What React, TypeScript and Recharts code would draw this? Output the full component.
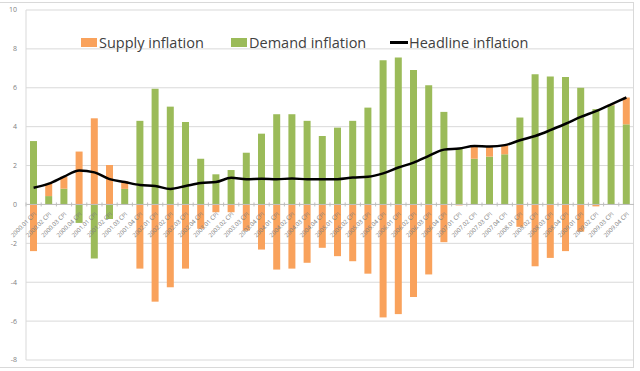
import { ComposedChart, Bar, Line, XAxis, YAxis, CartesianGrid, ReferenceLine } from 'recharts';

const years = [2000, 2001, 2002, 2003, 2004, 2005, 2006, 2007, 2008, 2009];
const quarters = ['01', '02', '03', '04'];
const labels = years.flatMap((y) => quarters.map((q) => `${y}.${q} CPI`));

const supply = [
  -2.4, 0.64, 0.62, 2.72, 4.43, 2.03, 0.4, -3.3, -5.0, -4.26,
  -3.3, -1.25, -0.4, -0.4, -1.35, -2.32, -3.35, -3.3, -3.0, -2.23,
  -2.66, -2.92, -3.56, -5.81, -5.64, -4.76, -3.6, -1.94, -0.05, 0.65,
  0.52, 0.47, -1.15, -3.18, -2.75, -2.4, -1.4, -0.1, 0.05, 1.38,
];
const demand = [
  3.26, 0.43, 0.81, -0.95, -2.78, -0.75, 0.8, 4.3, 5.95, 5.03,
  4.24, 2.35, 1.55, 1.77, 2.66, 3.64, 4.64, 4.64, 4.3, 3.52,
  3.95, 4.3, 4.98, 7.42, 7.56, 6.92, 6.13, 4.76, 2.9, 2.35,
  2.46, 2.58, 4.47, 6.7, 6.58, 6.56, 6.0, 4.9, 5.1, 4.12,
];
const headline = [
  0.86, 1.07, 1.43, 1.75, 1.65, 1.3, 1.15, 1.0, 0.95, 0.8,
  0.95, 1.1, 1.15, 1.37, 1.3, 1.32, 1.3, 1.33, 1.3, 1.3,
  1.3, 1.38, 1.42, 1.6, 1.9, 2.15, 2.5, 2.82, 2.88, 3.0,
  2.98, 3.05, 3.3, 3.52, 3.82, 4.15, 4.5, 4.8, 5.15, 5.5,
];
const yTicks = [-8, -6, -4, -2, 0, 2, 4, 6, 8, 10];

const data = labels.map((label, i) => ({
  label,
  supply: supply[i],
  demand: demand[i],
  headline: headline[i],
}));

const W = 640;
const H = 371;
const M = { top: 10, right: 6, bottom: 10, left: 0 };
const Y_W = 26;
const PLOT_W = W - M.left - M.right - Y_W;
const PLOT_H = H - M.top - M.bottom - 1;
const Y_MIN = -8;
const Y_MAX = 10;
const ZERO_Y = M.top + (PLOT_H * Y_MAX) / (Y_MAX - Y_MIN);
const STEP = PLOT_W / labels.length;

const ORANGE = '#F9A25C';
const GREEN = '#9BBB59';

function XTick(props: any) {
  const { x, payload } = props;
  const y = ZERO_Y;
  const tx = x + 3;
  const ty = y + 10;
  return (
    <g>
      <line x1={x - STEP / 2} x2={x - STEP / 2} y1={y - 2} y2={y + 2} stroke="#bfbfbf" />
      <text x={tx} y={ty} fontSize={6} fill="#7f7f7f" textAnchor="end" transform={`rotate(-45 ${tx} ${ty})`}>
        {payload.value}
      </text>
    </g>
  );
}

function LegendBox() {
  const item = { position: 'absolute' as const, top: 33, fontSize: 14.5, color: '#404040', whiteSpace: 'nowrap' as const };
  return (
    <>
      <div style={{ position: 'absolute', left: 81, top: 38, width: 16, height: 9, background: ORANGE }} />
      <div style={{ ...item, left: 99 }}>Supply inflation</div>
      <div style={{ position: 'absolute', left: 231, top: 38, width: 16, height: 9, background: GREEN }} />
      <div style={{ ...item, left: 249 }}>Demand inflation</div>
      <div style={{ position: 'absolute', left: 390, top: 41, width: 18, height: 2.5, background: '#000' }} />
      <div style={{ ...item, left: 409 }}>Headline inflation</div>
    </>
  );
}

export default function App() {
  return (
    <div style={{ position: 'absolute', left: 0, top: 0, width: W, height: H, background: '#fff', fontFamily: '"Open Sans", sans-serif' }}>
      <div style={{ position: 'absolute', left: 0, top: 2, width: 633, height: 364, borderTop: '1px solid #d9d9d9', borderRight: '1px solid #d9d9d9', borderBottom: '1px solid #d9d9d9' }} />
      <ComposedChart width={W} height={H} data={data} margin={M} stackOffset="sign" barSize={7}>
        <CartesianGrid vertical={false} stroke="#d9d9d9" />
        <XAxis dataKey="label" interval={0} height={1} axisLine={false} tickLine={false} tick={<XTick />} />
        <YAxis
          width={Y_W}
          domain={[Y_MIN, Y_MAX]}
          ticks={yTicks}
          interval={0}
          tickLine={false}
          tickSize={6}
          tickMargin={3}
          axisLine={{ stroke: '#d9d9d9' }}
          tick={{ fontSize: 7, fill: '#7f7f7f' }}
        />
        <ReferenceLine y={0} stroke="#bfbfbf" />
        <Bar dataKey="demand" stackId="a" fill={GREEN} isAnimationActive={false} />
        <Bar dataKey="supply" stackId="a" fill={ORANGE} isAnimationActive={false} />
        <Line dataKey="headline" type="monotone" stroke="#000" strokeWidth={2.5} dot={false} isAnimationActive={false} />
      </ComposedChart>
      <LegendBox />
    </div>
  );
}
